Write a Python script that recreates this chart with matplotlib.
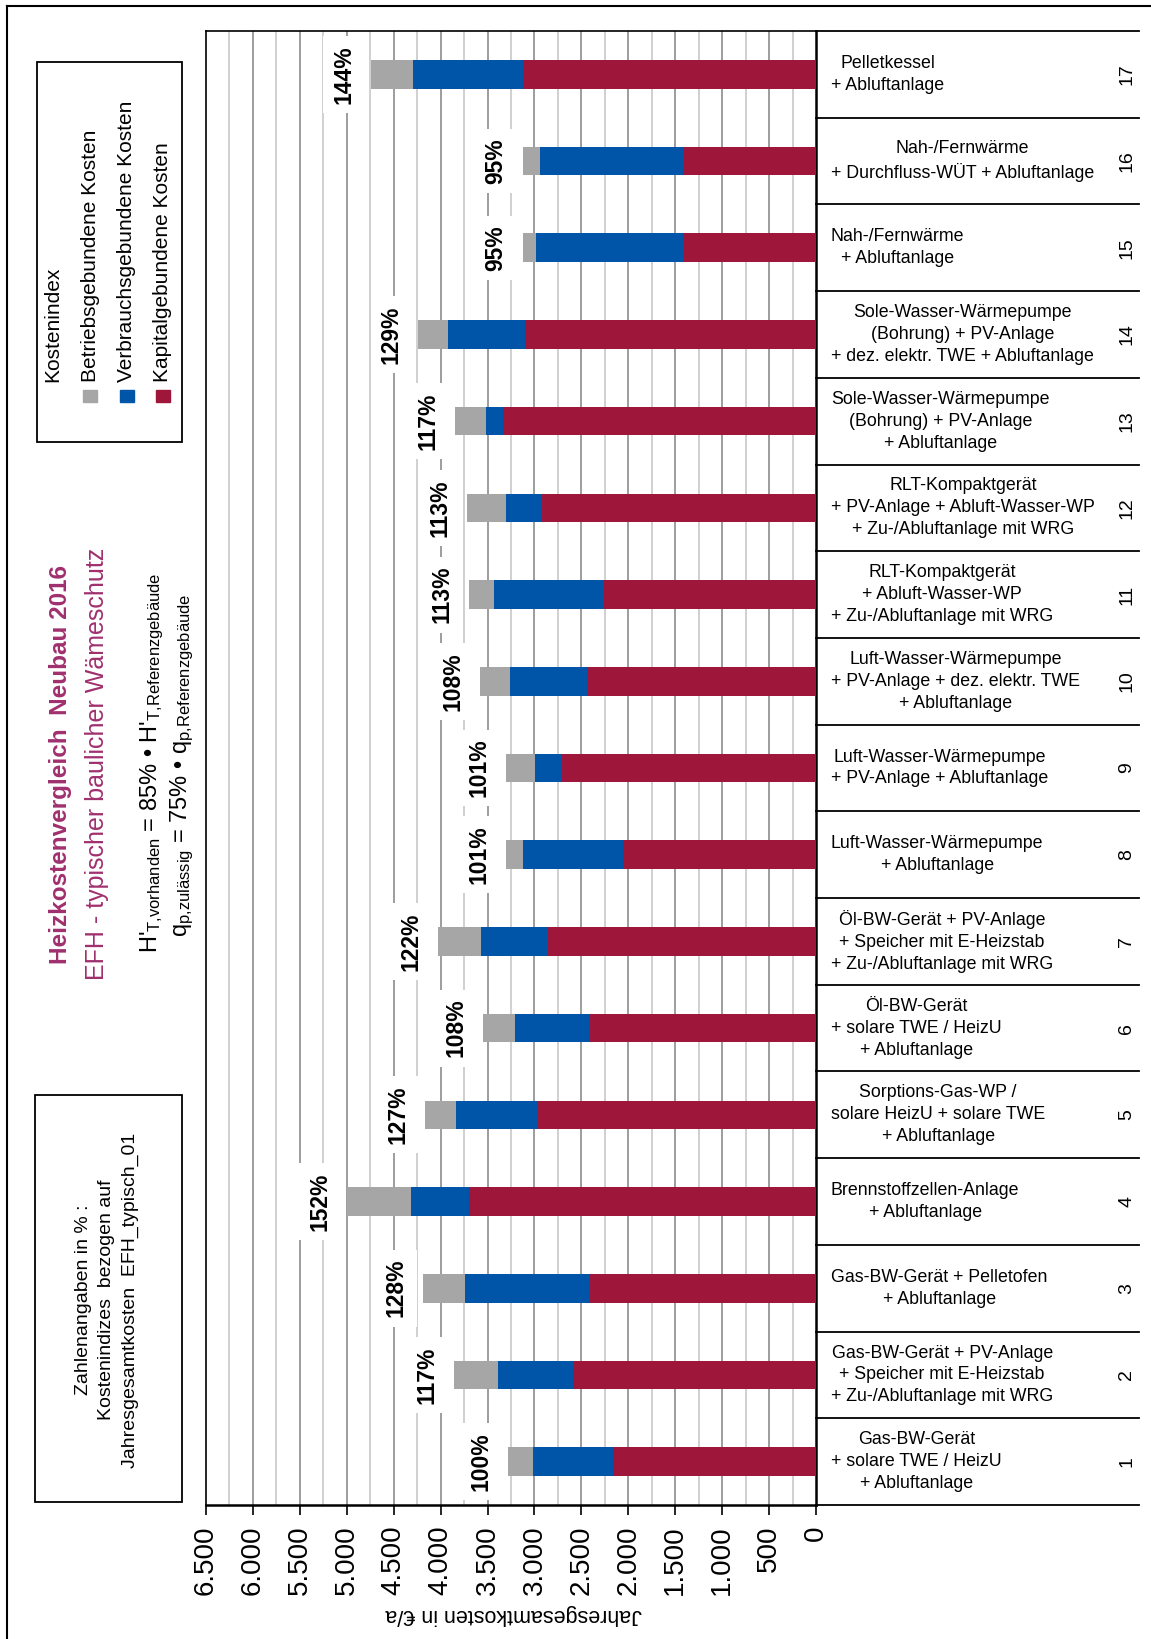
import numpy as np
import matplotlib
matplotlib.use("Agg")
import matplotlib.pyplot as plt
from matplotlib.patches import Rectangle
from matplotlib.lines import Line2D

plt.rcParams['font.family'] = ['Liberation Sans', 'DejaVu Sans']
plt.rcParams['mathtext.fontset'] = 'custom'
plt.rcParams['mathtext.rm'] = 'Liberation Sans'
plt.rcParams['mathtext.it'] = 'Liberation Sans'

# data (Jahresgesamtkosten in EUR/a), variant 1 .. 17
variants = np.arange(1, 18)
kapital = [2160, 2593, 2405, 3698, 2959, 2405, 2859, 2060, 2710,
           2444, 2262, 2920, 3332, 3104, 1403, 1403, 3125]
verbrauch = [859, 796, 1335, 614, 877, 799, 711, 1066, 288,
             820, 1169, 383, 181, 821, 1577, 1538, 1166]
betrieb = [266, 472, 448, 686, 334, 348, 458, 181, 309,
           313, 263, 416, 331, 313, 145, 184, 454]
index_labels = ['100%', '117%', '128%', '152%', '127%', '108%', '122%', '101%', '101%',
                '108%', '113%', '113%', '117%', '129%', '95%', '95%', '144%']
variant_labels = [
    "Gas-BW-Gerät\n+ solare TWE / HeizU\n+ Abluftanlage",
    "Gas-BW-Gerät + PV-Anlage\n+ Speicher mit E-Heizstab\n+ Zu-/Abluftanlage mit WRG",
    "Gas-BW-Gerät + Pelletofen\n+ Abluftanlage",
    "Brennstoffzellen-Anlage\n+ Abluftanlage",
    "Sorptions-Gas-WP /\nsolare HeizU + solare TWE\n+ Abluftanlage",
    "Öl-BW-Gerät\n+ solare TWE / HeizU\n+ Abluftanlage",
    "Öl-BW-Gerät + PV-Anlage\n+ Speicher mit E-Heizstab\n+ Zu-/Abluftanlage mit WRG",
    "Luft-Wasser-Wärmepumpe\n+ Abluftanlage",
    "Luft-Wasser-Wärmepumpe\n+ PV-Anlage + Abluftanlage",
    "Luft-Wasser-Wärmepumpe\n+ PV-Anlage + dez. elektr. TWE\n+ Abluftanlage",
    "RLT-Kompaktgerät\n+ Abluft-Wasser-WP\n+ Zu-/Abluftanlage mit WRG",
    "RLT-Kompaktgerät\n+ PV-Anlage + Abluft-Wasser-WP\n+ Zu-/Abluftanlage mit WRG",
    "Sole-Wasser-Wärmepumpe\n(Bohrung) + PV-Anlage\n+ Abluftanlage",
    "Sole-Wasser-Wärmepumpe\n(Bohrung) + PV-Anlage\n+ dez. elektr. TWE + Abluftanlage",
    "Nah-/Fernwärme\n+ Abluftanlage",
    "Nah-/Fernwärme\n+ Durchfluss-WÜT + Abluftanlage",
    "Pelletkessel\n+ Abluftanlage",
]
series_names = ['Betriebsgebundene Kosten', 'Verbrauchsgebundene Kosten', 'Kapitalgebundene Kosten']
x_ticks = np.arange(0, 6501, 500)

c_grau = '#a6a6a6'
c_blau = '#0055a9'
c_rot = '#9e1639'
c_titel = '#a0306e'

W, H = 1151, 1639
fig = plt.figure(figsize=(W / 100, H / 100), dpi=100)


def fx(x):
    return x / W


def fy(y):
    return 1 - y / H


# plot area
ax = fig.add_axes([fx(206), fy(1505), fx(816) - fx(206), fy(31) - fy(1505)])

kapital = np.array(kapital)
verbrauch = np.array(verbrauch)
betrieb = np.array(betrieb)
total = kapital + verbrauch + betrieb

bh = 0.33
ax.barh(variants, kapital, height=bh, color=c_rot, zorder=3)
ax.barh(variants, verbrauch, left=kapital, height=bh, color=c_blau, zorder=3)
ax.barh(variants, betrieb, left=kapital + verbrauch, height=bh, color=c_grau, zorder=3)

# gridlines
for v in np.arange(250, 6500, 250):
    col = '#8c8c8c' if v % 500 == 0 else '#c8c8c8'
    ax.axvline(v, color=col, lw=1.2, zorder=0)

ax.set_xlim(6500, 0)
ax.set_ylim(0.5, 17.5)
ax.set_yticks([])
ax.set_xticks(x_ticks)
ax.set_xticklabels([f"{v:,}".replace(',', '.') for v in x_ticks], rotation=90, fontsize=20)
ax.tick_params(axis='x', direction='out', length=7, width=1.2, pad=8)
for s in ['left', 'top']:
    ax.spines[s].set_linewidth(1.2)
for s in ['right', 'bottom']:
    ax.spines[s].set_linewidth(1.8)

# percentage labels
for v, t, lab in zip(variants, total, index_labels):
    ax.annotate(lab, (t, v), xytext=(-27, 0), textcoords='offset pixels',
                rotation=90, ha='center', va='center', fontsize=16.5, fontweight='bold',
                bbox=dict(boxstyle='square,pad=0.4', fc='white', ec='none'), zorder=4)

# category table on the right
ytr = ax.get_yaxis_transform()
x_end = (1139 - 206) / 610
for k in range(18):
    ax.plot([1.0, x_end], [k + 0.5, k + 0.5], transform=ytr, color='black', lw=1.3, clip_on=False)
for v, lab in zip(variants, variant_labels):
    ax.text((831 - 206) / 610, v, lab, transform=ytr, ha='left', va='center',
            multialignment='center', fontsize=12.75, linespacing=1.38, clip_on=False)
    ax.text((1127 - 206) / 610, v, str(v), transform=ytr, ha='center', va='center',
            rotation=90, fontsize=14, clip_on=False)

fig.text(fx(514), fy(1615), 'Jahresgesamtkosten in €/a', rotation=180,
         ha='center', va='center', fontsize=15.5)

# outer frame
fig.add_artist(Line2D([fx(7.5), fx(7.5)], [fy(6), 0], transform=fig.transFigure, color='black', lw=1.5))
fig.add_artist(Line2D([fx(7.5), 1], [fy(6), fy(6)], transform=fig.transFigure, color='black', lw=1.5))

# legend box
fig.add_artist(Rectangle((fx(36.7), fy(441.7)), fx(181.7) - fx(36.7), fy(61.7) - fy(441.7),
                         transform=fig.transFigure, fill=False, ec='black', lw=1.3))
fig.text(fx(53), fy(381.7), 'Kostenindex', rotation=90, ha='center', va='bottom', fontsize=15)
for xc, name, col in zip([90, 127, 163], series_names, [c_grau, c_blau, c_rot]):
    fig.text(fx(xc), fy(381.7), name, rotation=90, ha='center', va='bottom', fontsize=15)
    fig.add_artist(Rectangle((fx(xc - 7), fy(402)), fx(14), fy(390) - fy(402),
                             transform=fig.transFigure, color=col))

# titles
fig.text(fx(61), fy(764), 'Heizkostenvergleich  Neubau 2016', rotation=90, ha='center', va='center',
         fontsize=17.5, fontweight='bold', color=c_titel)
fig.text(fx(97), fy(764), 'EFH - typischer baulicher Wämeschutz', rotation=90, ha='center', va='center',
         fontsize=18, color=c_titel)
fig.text(fx(152), fy(763),
         r"H'$_{\mathrm{T{,}vorhanden}}$ = 85% • H'$_{\mathrm{T{,}Referenzgebäude}}$",
         rotation=90, ha='center', va='center', fontsize=17)
fig.text(fx(182), fy(765),
         r"q$_{\mathrm{p{,}zulässig}}$ = 75% • q$_{\mathrm{p{,}Referenzgebäude}}$",
         rotation=90, ha='center', va='center', fontsize=17)

# note box
fig.add_artist(Rectangle((fx(35), fy(1502)), fx(181.7) - fx(35), fy(1095) - fy(1502),
                         transform=fig.transFigure, fill=False, ec='black', lw=1.3))
fig.text(fx(107), fy(1300),
         'Zahlenangaben in % :\nKostenindizes  bezogen auf\nJahresgesamtkosten  EFH_typisch_01',
         rotation=90, ha='center', va='center', multialignment='center',
         fontsize=14, linespacing=1.5)

fig.savefig('out.png', dpi=100)
